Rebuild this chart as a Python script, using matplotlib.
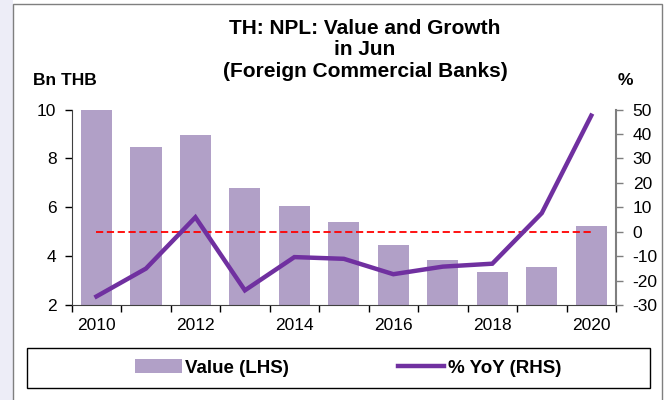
import matplotlib
matplotlib.use("Agg")
import matplotlib.pyplot as plt
from matplotlib.patches import Rectangle, Patch
from matplotlib.lines import Line2D

plt.rcParams["font.family"] = ["Liberation Sans", "DejaVu Sans"]
plt.rcParams["axes.unicode_minus"] = False

# NPL of foreign commercial banks, June of each year
years = [2010, 2011, 2012, 2013, 2014, 2015, 2016, 2017, 2018, 2019, 2020]
value_bn = [9.98, 8.47, 8.94, 6.79, 6.06, 5.40, 4.46, 3.83, 3.33, 3.57, 5.23]
yoy_pct = [-26.5, -15.1, 5.9, -24.0, -10.4, -11.1, -17.4, -14.3, -13.1, 7.6, 47.5]
lhs_ticks = [2, 4, 6, 8, 10]
rhs_ticks = [-30, -20, -10, 0, 10, 20, 30, 40, 50]
year_labels = ["2010", "2012", "2014", "2016", "2018", "2020"]
title_lines = ["TH: NPL: Value and Growth", "in Jun", "(Foreign Commercial Banks)"]

BAR = "#B1A0C7"
LINE = "#7030A0"
TICK_FS = 12.5

W, H = 669, 400
fig = plt.figure(figsize=(W / 100, H / 100), dpi=100)

# outer panel: pale strip on the left, grey frame around the chart
fig.patches.append(Rectangle((0, 0), 13 / W, 1, transform=fig.transFigure,
                             facecolor="#EDEDF7", edgecolor="none", zorder=0))
fig.patches.append(Rectangle((13 / W, -0.05), 649 / W, 1.05 - 4 / H,
                             transform=fig.transFigure, facecolor="none",
                             edgecolor="#7F7F7F", lw=1.0, zorder=1))

ax = fig.add_axes([71.7 / W, 1 - 305 / H, (616 - 71.7) / W, (305 - 109.5) / H])
x = list(range(len(years)))
ax.bar(x, value_bn, width=0.63, color=BAR, edgecolor="none", zorder=2)
ax.set_xlim(-0.5, len(years) - 0.5)
ax.set_ylim(2, 10)
ax.set_yticks(lhs_ticks)
ax.tick_params(axis="y", direction="out", length=5, width=1, labelsize=TICK_FS, pad=6)

# year boundaries carry the tick marks, labels sit under every other bar
ax.set_xticks([i - 0.5 for i in range(len(years) + 1)])
ax.set_xticklabels([])
ax.tick_params(axis="x", which="major", direction="out", length=5, width=1)
ax.set_xticks([years.index(int(y)) for y in year_labels], minor=True)
ax.set_xticklabels(year_labels, minor=True)
ax.tick_params(axis="x", which="minor", length=0, labelsize=TICK_FS, pad=9)

for side in ("top", "right"):
    ax.spines[side].set_visible(False)
ax.spines["left"].set_color("#404040")
ax.spines["bottom"].set_color("#404040")

ax2 = ax.twinx()
ax2.set_ylim(-30, 50)
ax2.set_yticks(rhs_ticks)
ax2.tick_params(axis="y", direction="out", length=5, width=1, color="#7F7F7F",
                labelsize=TICK_FS, pad=7)
for side in ("top", "left", "bottom"):
    ax2.spines[side].set_visible(False)
ax2.spines["right"].set_color("#7F7F7F")
ax2.spines["right"].set_linewidth(1.5)

ax2.plot([x[0], x[-1]], [0, 0], color="#FF0000", lw=1.3, ls=(0, (4, 2)), zorder=3)
ax2.plot(x, yoy_pct, color=LINE, lw=3.2, solid_joinstyle="miter", zorder=4)

# three title lines, each placed on its own baseline
for line, base in zip(title_lines, [34, 55, 77]):
    fig.text(365 / W, 1 - base / H, line, ha="center", va="baseline",
             fontsize=15, fontweight="bold")
fig.text(33 / W, 1 - 85 / H, "Bn THB", ha="left", va="baseline",
         fontsize=12.5, fontweight="bold")
fig.text(625 / W, 1 - 85 / H, "%", ha="center", va="baseline",
         fontsize=12.5, fontweight="bold")

# legend box across the bottom
fig.patches.append(Rectangle((26.5 / W, 1 - 388 / H), 623.5 / W, 40 / H,
                             transform=fig.transFigure, facecolor="white",
                             edgecolor="black", lw=1.0, zorder=1))
handles = [Patch(facecolor=BAR, edgecolor="none"),
           Line2D([], [], color=LINE, lw=3.2)]
fig.legend(handles, ["Value (LHS)", "% YoY (RHS)"], loc="center",
           bbox_to_anchor=(348 / W, 1 - 368 / H), ncol=2, frameon=False,
           prop={"weight": "bold", "size": 13.5}, handlelength=2.5,
           handleheight=0.7, handletextpad=0.17, columnspacing=5.8)

fig.savefig("out.png", dpi=100)
